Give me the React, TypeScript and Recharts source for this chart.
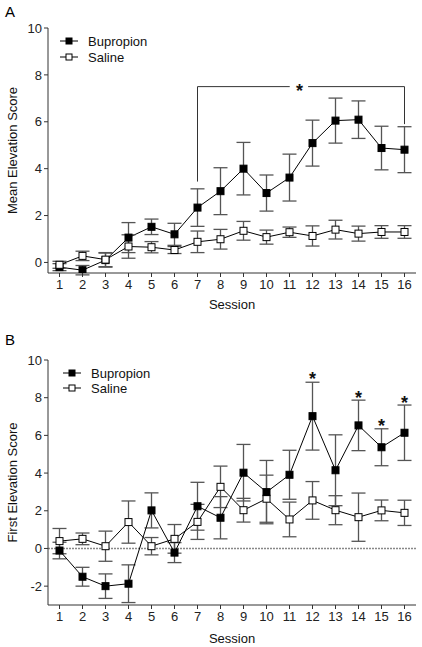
import {
  LineChart,
  Line,
  XAxis,
  YAxis,
  ErrorBar,
  ReferenceLine,
  ReferenceDot,
} from 'recharts'

const sessions = [1, 2, 3, 4, 5, 6, 7, 8, 9, 10, 11, 12, 13, 14, 15, 16]
const seriesNames = ['Bupropion', 'Saline']
const seriesFills = ['#000', '#fff']

// Panel A: mean elevation score
const bupMean = [-0.2, -0.33, 0.1, 1.06, 1.52, 1.2, 2.34, 3.04, 4.0, 2.96, 3.62, 5.09, 6.05, 6.09, 4.88, 4.81]
const bupMeanErr = [0.15, 0.2, 0.3, 0.64, 0.33, 0.47, 0.8, 1.0, 1.12, 0.77, 1.0, 0.98, 0.96, 0.8, 0.93, 0.98]
const salMean = [-0.1, 0.28, 0.12, 0.68, 0.65, 0.53, 0.88, 0.99, 1.35, 1.08, 1.29, 1.13, 1.4, 1.23, 1.3, 1.3]
const salMeanErr = [0.15, 0.2, 0.3, 0.5, 0.24, 0.15, 0.46, 0.42, 0.4, 0.3, 0.22, 0.43, 0.4, 0.32, 0.27, 0.27]
const ticksA = [0, 2, 4, 6, 8, 10]

// bracket over sessions 7-16 in panel A
const bracketY = 7.5
const bracketFrom = 7
const bracketTo = 16
const bracketLeftFoot = 3.45
const bracketRightFoot = 5.9
const bracketStarX = 11.43

// Panel B: first elevation score
const bupFirst = [-0.11, -1.5, -2.0, -1.87, 2.02, -0.22, 2.24, 1.63, 4.02, 2.99, 3.91, 7.02, 4.15, 6.53, 5.37, 6.14]
const bupFirstErr = [0.44, 0.5, 0.65, 1.0, 0.93, 0.53, 1.27, 1.12, 1.5, 1.68, 1.3, 1.8, 1.88, 1.34, 0.98, 1.47]
const salFirst = [0.39, 0.51, 0.12, 1.4, 0.12, 0.51, 1.41, 3.27, 2.03, 2.64, 1.54, 2.55, 2.03, 1.66, 2.02, 1.89]
const salFirstErr = [0.67, 0.31, 0.8, 1.12, 0.46, 0.76, 0.93, 1.1, 0.63, 1.25, 0.92, 1.0, 0.77, 1.28, 0.55, 0.67]
const ticksB = [-2, 0, 2, 4, 6, 8, 10]

// significance stars in panel B
const starSessions = [12, 14, 15, 16]
const starY = [9.18, 8.17, 6.7, 7.94]

const dataA = sessions.map((s, i) => ({
  session: s,
  bup: bupMean[i],
  bupErr: bupMeanErr[i],
  sal: salMean[i],
  salErr: salMeanErr[i],
}))

const dataB = sessions.map((s, i) => ({
  session: s,
  bup: bupFirst[i],
  bupErr: bupFirstErr[i],
  sal: salFirst[i],
  salErr: salFirstErr[i],
}))

const FONT = '"Liberation Sans", Arial, sans-serif'
const AXIS = '#333'
const TICK = { fill: '#222', fontSize: 13 }

const squareDot = (fill: string) => (props: any) => {
  const { cx, cy, index } = props
  if (cx == null || cy == null) return <g key={index} />
  return (
    <rect
      key={index}
      x={cx - 3.5}
      y={cy - 3.5}
      width={7}
      height={7}
      fill={fill}
      stroke="#000"
      strokeWidth={1}
    />
  )
}

const Star = (props: any) => (
  <text
    x={props.cx}
    y={props.cy + 10}
    textAnchor="middle"
    fontSize={18}
    fontWeight="bold"
    fill="#111"
  >
    *
  </text>
)

const LegendBox = ({ top, left, gap }: { top: number; left: number; gap: number }) => (
  <svg
    width={120}
    height={40}
    style={{ position: 'absolute', top, left }}
  >
    {seriesNames.map((name, i) => {
      const y = 8 + i * gap
      return (
        <g key={name}>
          <line x1={0} x2={18} y1={y} y2={y} stroke="#000" strokeWidth={1} />
          <rect x={6} y={y - 3} width={6} height={6} fill={seriesFills[i]} stroke="#000" />
          <text x={28} y={y + 4.5} fontSize={13} fill="#111">
            {name}
          </text>
        </g>
      )
    })}
  </svg>
)

function seriesLines(order: string[]) {
  return order.map((key) => {
    const i = key === 'bup' ? 0 : 1
    return (
      <Line
        key={key}
        dataKey={key}
        name={seriesNames[i]}
        stroke="#000"
        strokeWidth={1}
        dot={squareDot(seriesFills[i])}
        activeDot={false}
        isAnimationActive={false}
      >
        <ErrorBar dataKey={key + 'Err'} width={7} stroke="#555" strokeWidth={1.3} direction="y" />
      </Line>
    )
  })
}

export default function App() {
  return (
    <div
      style={{
        position: 'absolute',
        left: 0,
        top: 0,
        width: 422,
        height: 647,
        background: '#fff',
        fontFamily: FONT,
      }}
    >
      <div style={{ position: 'absolute', left: 5, top: 3, fontSize: 15 }}>A</div>
      <div style={{ position: 'absolute', left: 5, top: 331, fontSize: 15 }}>B</div>

      <div style={{ position: 'absolute', left: 0, top: 0 }}>
        <LineChart width={422} height={320} data={dataA} margin={{ top: 28, right: 6, left: 0, bottom: 7 }}>
          <XAxis
            type="number"
            dataKey="session"
            domain={[0.5, 16.5]}
            ticks={sessions}
            interval={0}
            tickSize={4}
            tickMargin={3}
            tick={TICK}
            stroke={AXIS}
            height={40}
            label={{ value: 'Session', position: 'insideBottom', offset: 4, fill: '#111', fontSize: 13 }}
          />
          <YAxis
            type="number"
            domain={[-0.45, 10]}
            allowDataOverflow
            ticks={ticksA}
            interval={0}
            tickSize={4}
            tickMargin={2}
            tick={TICK}
            stroke={AXIS}
            width={48}
            label={{
              value: 'Mean Elevation Score',
              angle: -90,
              position: 'insideLeft',
              offset: 12,
              fill: '#111',
              fontSize: 13,
              style: { textAnchor: 'middle' },
            }}
          />
          <ReferenceLine segment={[{ x: bracketFrom, y: bracketLeftFoot }, { x: bracketFrom, y: bracketY }]} stroke={AXIS} />
          <ReferenceLine segment={[{ x: bracketTo, y: bracketRightFoot }, { x: bracketTo, y: bracketY }]} stroke={AXIS} />
          <ReferenceLine segment={[{ x: bracketFrom, y: bracketY }, { x: bracketStarX - 0.42, y: bracketY }]} stroke={AXIS} />
          <ReferenceLine segment={[{ x: bracketStarX + 0.38, y: bracketY }, { x: bracketTo, y: bracketY }]} stroke={AXIS} />
          <ReferenceDot x={bracketStarX} y={bracketY} r={0} shape={Star} />
          {seriesLines(['bup', 'sal'])}
        </LineChart>
      </div>

      <div style={{ position: 'absolute', left: 0, top: 330 }}>
        <LineChart width={422} height={317} data={dataB} margin={{ top: 30, right: 6, left: 0, bottom: 2 }}>
          <XAxis
            type="number"
            dataKey="session"
            domain={[0.5, 16.5]}
            ticks={sessions}
            interval={0}
            tickSize={4}
            tickMargin={3}
            tick={TICK}
            stroke={AXIS}
            height={40}
            label={{ value: 'Session', position: 'insideBottom', offset: 2, fill: '#111', fontSize: 13 }}
          />
          <YAxis
            type="number"
            domain={[-3, 10]}
            allowDataOverflow
            ticks={ticksB}
            interval={0}
            tickSize={4}
            tickMargin={2}
            tick={TICK}
            stroke={AXIS}
            width={48}
            label={{
              value: 'First Elevation Score',
              angle: -90,
              position: 'insideLeft',
              offset: 12,
              fill: '#111',
              fontSize: 13,
              style: { textAnchor: 'middle' },
            }}
          />
          <ReferenceLine y={0} stroke="#888" strokeWidth={1.5} strokeDasharray="2 1" />
          {starSessions.map((s, i) => (
            <ReferenceDot key={s} x={s} y={starY[i]} r={0} shape={Star} />
          ))}
          {seriesLines(['sal', 'bup'])}
        </LineChart>
      </div>

      <LegendBox top={33} left={60} gap={16} />
      <LegendBox top={365} left={63} gap={15} />
    </div>
  )
}
